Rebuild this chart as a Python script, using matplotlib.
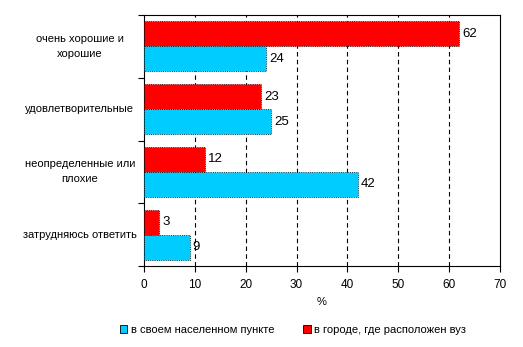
import numpy as np
from matplotlib import pyplot as plt

plt.rcParams['font.family'] = ['Liberation Sans', 'DejaVu Sans']

categories = ['очень хорошие и\nхорошие', 'удовлетворительные',
              'неопределенные или\nплохие', 'затрудняюсь ответить']
city_vals = [62, 23, 12, 3]
home_vals = [24, 25, 42, 9]
city_label = 'в городе, где расположен вуз'
home_label = 'в своем населенном пункте'
xticks = [0, 10, 20, 30, 40, 50, 60, 70]

red = '#FF0000'
cyan = '#00CCFF'

fig = plt.figure(figsize=(5.23, 3.47), dpi=100)
ax = fig.add_axes([0.2753, 0.2334, 0.6807, 0.7233])

n = len(categories)
y = np.arange(n)
h = 0.4
b1 = ax.barh(y - h/2, city_vals, height=h, color=red, edgecolor='black',
             linewidth=0.6, linestyle=':', label=city_label, zorder=3)
b2 = ax.barh(y + h/2, home_vals, height=h, color=cyan, edgecolor='black',
             linewidth=0.6, linestyle=':', label=home_label, zorder=3)

for bars, vals in ((b1, city_vals), (b2, home_vals)):
	for r, v in zip(bars, vals):
		ax.text(r.get_width() + 0.6, r.get_y() + r.get_height()/2, str(v),
		        va='center', ha='left', fontsize=9.5)

ax.set_xlim(0, 70)
ax.set_ylim(n - 0.5, -0.5)
ax.set_xticks(xticks)
ax.tick_params(axis='x', labelsize=8.5, length=4, width=0.8, pad=5)
for xv in xticks[1:-1]:
	ax.axvline(xv, color='black', linestyle=(0, (4, 3)), linewidth=0.8, zorder=1)

# category boundary ticks on y, labels centered between them
ax.set_yticks(np.arange(n + 1) - 0.5)
ax.set_yticklabels([])
ax.tick_params(axis='y', length=4, width=0.8)
for yi, c in zip(y, categories):
	ax.text(-0.18, yi, c, transform=ax.get_yaxis_transform(), ha='center',
	        va='center', fontsize=8, multialignment='center', linespacing=1.6)

for s in ax.spines.values():
	s.set_linewidth(0.8)
	s.set_color('black')

ax.set_xlabel('%', fontsize=8, labelpad=5)

handles = [b2, b1]
leg = fig.legend(handles, [home_label, city_label], loc='center',
                 bbox_to_anchor=(0.56, 0.049), ncol=2, frameon=False,
                 fontsize=8, handlelength=0.7, handleheight=0.7,
                 columnspacing=2.6, handletextpad=0.3)
for p in leg.get_patches():
	p.set_linestyle('-')
	p.set_edgecolor('black')

plt.savefig('out.png', dpi=100)
